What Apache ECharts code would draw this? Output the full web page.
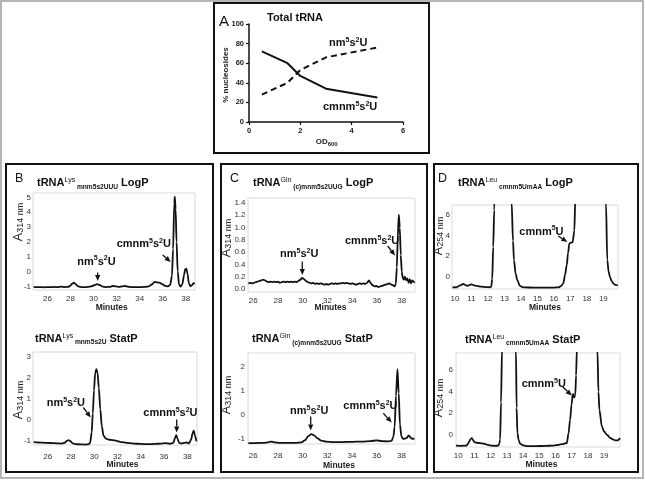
<!DOCTYPE html>
<html><head><meta charset="utf-8">
<script src="https://cdn.jsdelivr.net/npm/echarts@6/dist/echarts.min.js"></script>
<style>html,body{margin:0;padding:0;background:#fff}#c{width:645px;height:482px}</style>
</head><body><div id="c"></div>
<script>
// ---------- Panel A data ----------
const odValues = [0.5, 1.5, 2, 3, 5];
const cmnmPercent = [72, 60, 47, 34, 25];
const nmPercent = [28, 40, 53, 66, 76];
const odTicks = [0, 2, 4, 6];
const pctTicks = [0, 20, 40, 60, 80, 100];

// ---------- Chromatograms [minutes, absorbance] ----------
const bLogP = [[24.8,-1.04],[25.1,-1.06],[25.4,-1.05],[25.7,-1.07],[26.0,-1.05],[26.3,-1.06],[26.6,-1.04],[26.9,-1.06],[27.2,-1.02],[27.5,-1.05],[27.8,-1.04],[28.0,-0.95],[28.15,-0.82],[28.3,-0.76],[28.45,-0.86],[28.65,-1.0],[28.9,-1.05],[29.2,-1.06],[29.5,-1.04],[29.8,-1.01],[30.05,-0.93],[30.3,-0.86],[30.55,-0.92],[30.8,-1.02],[31.1,-1.05],[31.4,-1.04],[31.7,-0.98],[31.95,-1.01],[32.2,-1.04],[32.5,-1.0],[32.75,-0.98],[33.0,-1.03],[33.3,-1.06],[33.6,-1.05],[33.9,-1.06],[34.2,-1.05],[34.5,-1.04],[34.8,-1.0],[35.05,-0.88],[35.3,-0.7],[35.5,-0.74],[35.7,-0.75],[35.95,-0.85],[36.2,-0.97],[36.45,-1.01],[36.65,-0.9],[36.8,-0.3],[36.9,1.5],[37.0,4.6],[37.05,5.05],[37.12,4.2],[37.2,2.0],[37.3,0.0],[37.42,-0.9],[37.55,-1.02],[37.7,-0.85],[37.85,-0.25],[37.95,0.15],[38.05,0.2],[38.15,-0.15],[38.27,-0.8],[38.4,-1.0],[38.55,-0.92],[38.65,-0.78],[38.78,-0.82]];
const bStatP = [[24.8,-1.06],[25.2,-1.08],[25.6,-1.09],[26.0,-1.1],[26.4,-1.11],[26.8,-1.12],[27.2,-1.13],[27.45,-1.1],[27.65,-1.0],[27.8,-0.97],[27.95,-1.02],[28.15,-1.12],[28.4,-1.16],[28.8,-1.17],[29.2,-1.18],[29.5,-1.17],[29.65,-1.1],[29.78,-0.6],[29.88,0.3],[29.98,1.4],[30.08,2.2],[30.18,2.4],[30.28,2.25],[30.4,1.5],[30.52,0.5],[30.65,-0.3],[30.8,-0.75],[31.0,-0.9],[31.3,-0.95],[31.6,-0.97],[31.9,-1.0],[32.3,-1.06],[32.8,-1.1],[33.4,-1.13],[34.0,-1.15],[34.6,-1.16],[35.2,-1.15],[35.7,-1.13],[36.1,-1.11],[36.5,-1.14],[36.8,-1.1],[36.95,-0.85],[37.05,-0.73],[37.15,-0.9],[37.3,-1.1],[37.5,-1.13],[37.75,-1.1],[37.95,-1.08],[38.15,-1.12],[38.32,-0.95],[38.45,-0.65],[38.55,-0.52],[38.65,-0.75],[38.78,-1.02]];
const cLogP = [[25.6,0.09],[25.75,0.1],[25.9,0.09],[26.05,0.1],[26.2,0.11],[26.35,0.12],[26.5,0.13],[26.65,0.14],[26.8,0.15],[26.95,0.14],[27.1,0.12],[27.25,0.11],[27.4,0.12],[27.55,0.11],[27.7,0.12],[27.85,0.11],[28.0,0.12],[28.15,0.1],[28.3,0.11],[28.45,0.12],[28.6,0.11],[28.75,0.12],[28.9,0.11],[29.05,0.12],[29.2,0.11],[29.35,0.12],[29.5,0.11],[29.65,0.13],[29.8,0.15],[29.95,0.18],[30.1,0.16],[30.25,0.13],[30.4,0.11],[30.55,0.1],[30.7,0.09],[30.85,0.1],[31.0,0.08],[31.15,0.09],[31.3,0.08],[31.45,0.09],[31.6,0.08],[31.75,0.07],[31.9,0.08],[32.05,0.07],[32.2,0.08],[32.35,0.09],[32.5,0.08],[32.65,0.09],[32.8,0.08],[32.95,0.09],[33.1,0.09],[33.25,0.1],[33.4,0.09],[33.55,0.1],[33.7,0.09],[33.85,0.08],[34.0,0.09],[34.15,0.08],[34.3,0.07],[34.45,0.08],[34.6,0.09],[34.75,0.08],[34.9,0.09],[35.05,0.08],[35.2,0.1],[35.35,0.14],[35.5,0.09],[35.65,0.06],[35.8,0.04],[35.95,0.05],[36.1,0.03],[36.25,0.04],[36.4,0.05],[36.55,0.06],[36.7,0.07],[36.85,0.08],[37.0,0.09],[37.15,0.07],[37.3,0.06],[37.42,0.04],[37.52,0.08],[37.6,0.35],[37.68,0.85],[37.76,1.21],[37.84,1.0],[37.92,0.55],[38.0,0.28],[38.08,0.18],[38.16,0.15],[38.25,0.2],[38.35,0.14],[38.45,0.17],[38.55,0.1],[38.65,0.16],[38.75,0.09],[38.85,0.14],[38.95,0.12],[39.05,0.1]];
const cStatP = [[25.6,-1.17],[26.2,-1.17],[26.8,-1.16],[27.2,-1.14],[27.45,-1.11],[27.7,-1.14],[28.2,-1.16],[28.8,-1.16],[29.4,-1.16],[29.9,-1.14],[30.2,-1.05],[30.45,-0.88],[30.7,-0.8],[30.95,-0.86],[31.2,-0.98],[31.5,-1.07],[31.9,-1.11],[32.5,-1.13],[33.2,-1.13],[34.0,-1.12],[34.8,-1.11],[35.5,-1.09],[36.0,-1.06],[36.4,-1.09],[36.9,-1.1],[37.2,-1.08],[37.35,-0.9],[37.45,-0.5],[37.56,0.8],[37.68,1.9],[37.78,0.9],[37.88,-0.4],[38.0,-0.9],[38.15,-1.0],[38.4,-0.97],[38.6,-0.85],[38.75,-0.95],[38.9,-1.0],[39.05,-0.98]];
const dLogP = [[9.85,-1.04],[10.1,-1.03],[10.3,-0.85],[10.5,-0.71],[10.65,-0.82],[10.75,-0.9],[10.88,-0.8],[11.01,-0.74],[11.15,-0.84],[11.32,-0.9],[11.6,-0.97],[11.9,-1.02],[12.12,-1.03],[12.2,-0.98],[12.26,-0.2],[12.32,2.9],[12.38,6.5],[12.5,14],[12.9,20],[13.3,14],[13.44,7.2],[13.52,3.5],[13.58,1.62],[13.68,0.3],[13.78,-0.32],[13.94,-0.9],[14.1,-1.02],[14.25,-1.05],[14.8,-1.06],[15.4,-1.06],[16.0,-1.06],[16.27,-1.04],[16.45,-0.9],[16.57,-0.65],[16.68,0.2],[16.78,1.13],[16.86,2.3],[16.94,3.25],[17.04,3.32],[17.14,3.38],[17.24,4.5],[17.3,7.5],[17.45,14],[18.2,20],[19.0,14],[19.16,7.2],[19.24,1.62],[19.32,0.5],[19.4,0.0],[19.5,-0.4],[19.6,-0.65],[19.72,-0.8],[19.87,-0.84]];
const dStatP = [[9.86,-1.02],[10.2,-1.03],[10.5,-1.01],[10.6,-0.85],[10.68,-0.62],[10.76,-0.4],[10.83,-0.31],[10.9,-0.45],[10.97,-0.65],[11.1,-0.74],[11.24,-0.77],[11.45,-0.8],[11.65,-0.86],[11.85,-0.95],[12.06,-1.02],[12.3,-1.03],[12.47,-1.02],[12.54,-0.8],[12.58,-0.46],[12.64,3.0],[12.7,8.0],[12.85,15],[13.1,20],[13.4,15],[13.56,7.8],[13.6,2.5],[13.65,0.15],[13.72,-0.45],[13.81,-0.83],[14.0,-0.98],[14.22,-1.05],[14.8,-1.05],[15.4,-1.04],[15.8,-1.01],[16.08,-0.97],[16.4,-0.88],[16.7,-0.77],[16.8,0.1],[16.9,1.38],[16.99,2.8],[17.07,3.78],[17.15,3.47],[17.22,3.7],[17.27,5.5],[17.32,8.0],[17.5,15],[18.0,20],[18.45,15],[18.59,7.8],[18.65,4.0],[18.71,2.3],[18.86,0.77],[19.0,0.3],[19.17,0.0],[19.37,-0.3],[19.57,-0.46],[19.7,-0.52],[19.82,-0.52],[19.99,-0.31]];

// ---------- Tick labels ----------
const bTicksX = [26, 28, 30, 32, 34, 36, 38];
const bLogPTicksY = [-1, 0, 1, 2, 3, 4, 5];
const bStatPTicksY = [-1, 0, 1, 2, 3];
const cTicksX = [26, 28, 30, 32, 34, 36, 38];
const cLogPTicksY = [0, 0.2, 0.4, 0.6, 0.8, 1.0, 1.2, 1.4];
const cStatPTicksY = [-1, 0, 1, 2];
const dTicksX = [10, 11, 12, 13, 14, 15, 16, 17, 18, 19];
const dTicksY = [0, 2, 4, 6];

const FONT = "'Liberation Sans', Arial, sans-serif";
const mctx = document.createElement('canvas').getContext('2d');
function mw(t, size, bold) { mctx.font = (bold ? 'bold ' : '') + size + 'px ' + FONT; return mctx.measureText(t).width; }
// parts: [text, size, bold, baselineOffset]
function seg(x, y, parts, opt) {
  opt = opt || {};
  const w = parts.reduce((s, p) => s + mw(p[0], p[1], p[2]), 0);
  let cx = opt.align === 'center' ? -w / 2 : (opt.align === 'right' ? -w : 0);
  const children = [];
  for (const p of parts) {
    children.push({ type: 'text', x: cx, y: (p[3] || 0) - 0.31 * p[1],
      style: { text: p[0], fontSize: p[1], fontWeight: p[2] ? 'bold' : 'normal', fontFamily: FONT,
        fill: opt.color || '#111', verticalAlign: 'middle', align: 'left' } });
    cx += mw(p[0], p[1], p[2]);
  }
  return { type: 'group', x: x, y: y, rotation: opt.rot || 0, silent: true, children: children };
}
function arrow(x1, y1, x2, y2) {
  const a = Math.atan2(y2 - y1, x2 - x1), L = 6, W = 2.6;
  const bx = x2 - L * Math.cos(a), by = y2 - L * Math.sin(a);
  return { type: 'group', silent: true, children: [
    { type: 'line', shape: { x1: x1, y1: y1, x2: bx, y2: by }, style: { stroke: '#111', lineWidth: 1.3 } },
    { type: 'polygon', shape: { points: [[x2, y2], [bx + W * Math.sin(a), by - W * Math.cos(a)], [bx - W * Math.sin(a), by + W * Math.cos(a)]] }, style: { fill: '#111' } }
  ] };
}
function box(x1, y1, x2, y2, color, lw) {
  return { type: 'rect', silent: true, shape: { x: x1, y: y1, width: x2 - x1, height: y2 - y1 }, style: { fill: 'none', stroke: color, lineWidth: lw } };
}
const nmLabel = (x, y, al) => seg(x, y, [['nm', 11, true], ['5', 7, true, -4.5], ['s', 11, true], ['2', 7, true, -4.5], ['U', 11, true]], { align: al || 'left' });
const cmnmLabel = (x, y, al) => seg(x, y, [['cmnm', 11, true], ['5', 7, true, -4.5], ['s', 11, true], ['2', 7, true, -4.5], ['U', 11, true]], { align: al || 'left' });
const cmnm5uLabel = (x, y) => seg(x, y, [['cmnm', 11, true], ['5', 7, true, -4.5], ['U', 11, true]]);
const title = (x, y, sup, sub, tail) => seg(x, y, [['tRNA', 11, true], [sup, 7, false, -4], [' ' + sub, 6.6, true, 2.5], [' ' + tail, 11, true]]);
const aLabel = (x, y, wl) => seg(x, y, [['A', 12.5, false], [wl + ' nm', 9, false, 1.5]], { align: 'center', rot: Math.PI / 2, color: '#222' });
const minutes = (x, y) => seg(x, y, [['Minutes', 8.5, true]], { align: 'center', color: '#222' });

const grids = [
  { left: 249, top: 24, width: 154, height: 98 },
  { left: 33, top: 193, width: 162, height: 97 },
  { left: 33, top: 352, width: 164, height: 93 },
  { left: 248, top: 198, width: 167, height: 94 },
  { left: 248, top: 353, width: 167, height: 91 },
  { left: 452, top: 205, width: 166, height: 84 },
  { left: 456, top: 353, width: 164, height: 94 }
].map((g, i) => Object.assign(g, i === 0 ? { show: false } : { show: true, borderColor: '#dadada', borderWidth: 1, backgroundColor: 'transparent' }));

const lbl = { fontSize: 8, color: '#333', fontFamily: FONT };
function cx(gi, min, max, ticks, margin) {
  return { type: 'value', gridIndex: gi, min: min, max: max, axisLine: { show: false }, axisTick: { show: false }, splitLine: { show: false },
    axisLabel: Object.assign({ customValues: ticks, margin: margin }, lbl) };
}
function cy(gi, min, max, ticks, margin, fmt) {
  return { type: 'value', gridIndex: gi, min: min, max: max, axisLine: { show: false }, axisTick: { show: false }, splitLine: { show: false },
    axisLabel: Object.assign({ customValues: ticks, margin: margin, formatter: fmt || (v => String(v)) }, lbl) };
}
const aAxisCommon = { axisLine: { show: true, lineStyle: { color: '#111', width: 1.5 } }, axisTick: { show: true, length: 3, lineStyle: { color: '#111', width: 1.2 } }, splitLine: { show: false } };

const xAxis = [
  Object.assign({ type: 'value', gridIndex: 0, min: 0, max: 6, interval: 2, axisLabel: { customValues: odTicks, fontSize: 7.5, fontWeight: 'bold', color: '#222', fontFamily: FONT, margin: 5 } }, aAxisCommon),
  cx(1, 24.75, 38.8, bTicksX, 5),
  cx(2, 24.74, 38.83, bTicksX, 8),
  cx(3, 25.57, 39.07, cTicksX, 5),
  cx(4, 25.57, 39.1, cTicksX, 8),
  cx(5, 9.82, 19.89, dTicksX, 6),
  cx(6, 9.86, 19.98, dTicksX, 5)
];
const yAxis = [
  Object.assign({ type: 'value', gridIndex: 0, min: 0, max: 100, interval: 20, axisLabel: { customValues: pctTicks, fontSize: 7.5, fontWeight: 'bold', color: '#222', fontFamily: FONT, margin: 5 } }, aAxisCommon),
  cy(1, -1.25, 5.3, bLogPTicksY, 2),
  cy(2, -1.2, 3.22, bStatPTicksY, 2),
  cy(3, -0.05, 1.48, cLogPTicksY, 2.5, v => v.toFixed(1)),
  cy(4, -1.21, 2.57, cStatPTicksY, 3),
  cy(5, -1.2, 7.0, dTicksY, 2),
  cy(6, -1.14, 7.59, dTicksY, 3)
];

const chromStyle = { type: 'line', showSymbol: false, symbol: 'none', smooth: 0.3, smoothMonotone: 'x', clip: true, lineStyle: { color: '#111', width: 1.8 } };
const series = [
  { type: 'line', xAxisIndex: 0, yAxisIndex: 0, data: odValues.map((v, i) => [v, cmnmPercent[i]]), showSymbol: false, symbol: 'none', lineStyle: { color: '#111', width: 2 } },
  { type: 'line', xAxisIndex: 0, yAxisIndex: 0, data: odValues.map((v, i) => [v, nmPercent[i]]), showSymbol: false, symbol: 'none', lineStyle: { color: '#111', width: 2, type: [6, 4] } },
  Object.assign({ xAxisIndex: 1, yAxisIndex: 1, data: bLogP }, chromStyle),
  Object.assign({ xAxisIndex: 2, yAxisIndex: 2, data: bStatP }, chromStyle),
  Object.assign({ xAxisIndex: 3, yAxisIndex: 3, data: cLogP }, chromStyle, { smooth: 0.15 }),
  Object.assign({ xAxisIndex: 4, yAxisIndex: 4, data: cStatP }, chromStyle),
  Object.assign({ xAxisIndex: 5, yAxisIndex: 5, data: dLogP }, chromStyle),
  Object.assign({ xAxisIndex: 6, yAxisIndex: 6, data: dStatP }, chromStyle)
];

const graphic = [
  box(1, 1, 643, 478, '#b5b5b5', 2),
  box(214, 3, 429, 153, '#111', 2),
  box(6, 164, 213, 472, '#111', 2),
  box(221, 164, 427, 472, '#111', 2),
  box(434, 164, 638, 472, '#111', 2),
  // Panel A texts
  seg(219, 27, [['A', 15, false]]),
  seg(267, 21, [['Total tRNA', 11, true]]),
  nmLabel(329, 46.5),
  cmnmLabel(323, 110.5),
  seg(228, 75, [['% nucleosides', 8, true]], { align: 'center', rot: Math.PI / 2, color: '#222' }),
  seg(326.7, 144, [['OD', 8, true], ['600', 6, true, 2]], { align: 'center', color: '#222' }),
  // Panel letters
  seg(15, 182, [['B', 12.5, false]]),
  seg(230, 182, [['C', 12.5, false]]),
  seg(438, 182, [['D', 12.5, false]]),
  // Titles
  title(37, 186.5, 'Lys', 'mnm5s2UUU', 'LogP'),
  title(35, 342, 'Lys', 'mnm5s2U', 'StatP'),
  title(253, 186.5, 'Gln', '(c)mnm5s2UUG', 'LogP'),
  title(252, 342.5, 'Gln', '(c)mnm5s2UUG', 'StatP'),
  title(458, 186.5, 'Leu', 'cmnm5UmAA', 'LogP'),
  title(465, 343, 'Leu', 'cmnm5UmAA', 'StatP'),
  // axis names
  aLabel(22, 222, '314'), aLabel(22, 400, '314'),
  aLabel(230, 238, '314'), aLabel(230, 395, '314'),
  aLabel(442, 236, '254'), aLabel(442, 398, '254'),
  minutes(111.7, 310), minutes(122.5, 467),
  minutes(330.5, 310), minutes(339, 468),
  minutes(545, 310), minutes(541.5, 467),
  // annotations
  nmLabel(96.5, 265, 'center'), arrow(97.7, 272.5, 97.7, 281),
  cmnmLabel(116.7, 247.7), arrow(162.7, 255, 170.7, 262),
  nmLabel(46.7, 406.7), arrow(83.3, 407.5, 90.7, 417.5),
  cmnmLabel(143.3, 416.7), arrow(176.7, 419.5, 176.7, 432.5),
  nmLabel(280, 257.3), arrow(302.3, 261.5, 302.3, 275),
  cmnmLabel(345, 244.3), arrow(387.7, 246, 395, 255.5),
  nmLabel(290, 414.3), arrow(310.7, 416.5, 310.7, 430.5),
  cmnmLabel(343.3, 409.3), arrow(383.3, 413.3, 391.7, 422.5),
  cmnm5uLabel(519.3, 235), arrow(558.3, 236, 567.3, 242),
  cmnm5uLabel(521.7, 387.7), arrow(562.7, 386.7, 571.7, 395.5)
];

const chart = echarts.init(document.getElementById('c'), null, { renderer: 'canvas' });
chart.setOption({ animation: false, backgroundColor: '#fff', grid: grids, xAxis: xAxis, yAxis: yAxis, series: series, graphic: graphic });
</script></body></html>
